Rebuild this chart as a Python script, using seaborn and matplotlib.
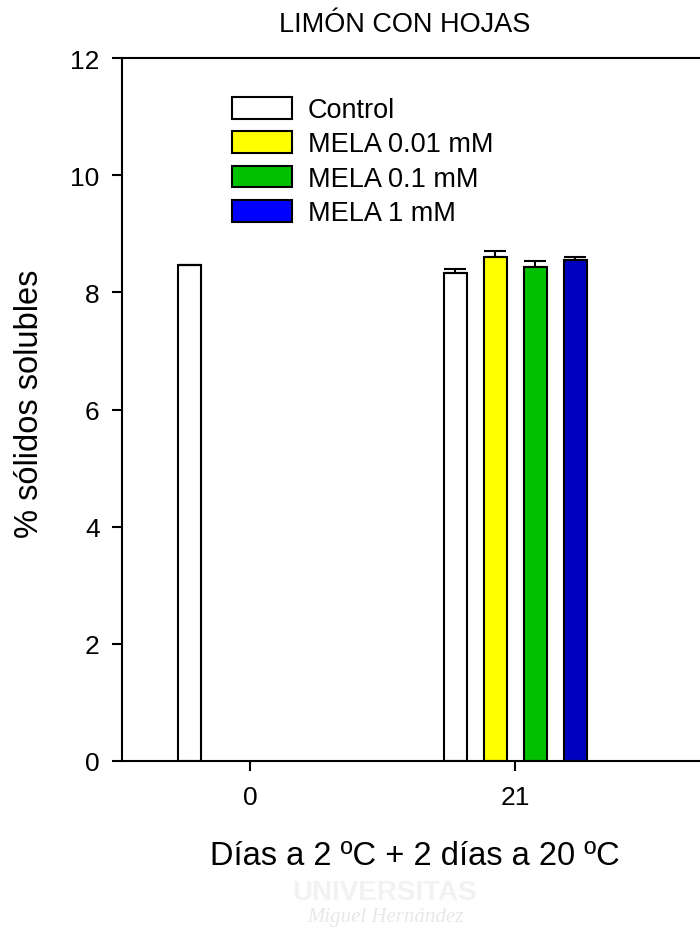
import matplotlib
matplotlib.use('Agg')
import matplotlib.pyplot as plt
from matplotlib.patches import Patch
import seaborn as sns
import pandas as pd

# Data
days = ["0", "21"]
treatments = ["Control", "MELA 0.01 mM", "MELA 0.1 mM", "MELA 1 mM"]
bar_day = ["0", "21", "21", "21", "21"]
bar_treatment = ["Control", "Control", "MELA 0.01 mM", "MELA 0.1 mM", "MELA 1 mM"]
bar_value = [8.46, 8.33, 8.61, 8.43, 8.55]
bar_error = [0.01, 0.07, 0.09, 0.11, 0.06]

bar_colors = {"Control": "white", "MELA 0.01 mM": "#FFFF00",
              "MELA 0.1 mM": "#00C000", "MELA 1 mM": "#0000C0"}
legend_colors = {"Control": "white", "MELA 0.01 mM": "#FFFF00",
                 "MELA 0.1 mM": "#00C000", "MELA 1 mM": "#0000FF"}

df = pd.DataFrame({"day": bar_day, "treatment": bar_treatment,
                   "value": bar_value, "error": bar_error})

sns.set_style("white")
plt.rcParams['font.family'] = ['Liberation Sans', 'DejaVu Sans']
plt.rcParams['text.color'] = 'black'

fig = plt.figure(figsize=(7.0, 9.28), dpi=100)
ax = fig.add_axes([0.1743, 0.1789, 0.9257, 0.7575])

sns.barplot(data=df, x="day", y="value", hue="treatment", order=days,
            hue_order=treatments, palette=bar_colors, saturation=1,
            width=0.604, gap=0.425, errorbar=None, edgecolor="black",
            linewidth=1.5, legend=False, ax=ax)

# one-sided (upper) error bars on each drawn bar
err_lookup = {(d, t): e for d, t, e in zip(bar_day, bar_treatment, bar_error)}
for container, trt in zip(ax.containers, treatments):
    for bar in container:
        h = bar.get_height()
        if pd.isna(h):
            continue
        xc = bar.get_x() + bar.get_width() / 2
        d = days[int(round(xc))]
        e = err_lookup.get((d, trt))
        if e is None:
            continue
        ax.errorbar(xc, h, yerr=[[0], [e]], fmt='none', ecolor='black',
                    elinewidth=1.5, capsize=8, capthick=1.5, zorder=5)

ax.set_ylim(0, 12)
ax.set_yticks(range(0, 13, 2))
ax.set_xlim(-0.483, 1.962)
ax.set_xlabel("")
ax.set_ylabel("")
ax.tick_params(axis='both', direction='out', length=7.2, width=1.5,
               labelsize=19, colors='black')
ax.tick_params(axis='x', bottom=True, pad=10)
ax.tick_params(axis='y', left=True, pad=9)
for sp in ax.spines.values():
    sp.set_linewidth(1.5)
    sp.set_color('black')

handles = [Patch(facecolor=legend_colors[t], edgecolor='black', linewidth=1.5, label=t)
           for t in treatments]
ax.legend(handles=handles, loc='upper left', bbox_to_anchor=(232 / 700, 1 - 98 / 928),
          bbox_transform=fig.transFigure, frameon=False, fontsize=19.5,
          borderaxespad=0, borderpad=0, handlelength=2.2, handleheight=0.85,
          handletextpad=0.6, labelspacing=0.3, labelcolor='black')

# faint watermark text
fig.text(385 / 700, 1 - 893 / 928, "UNIVERSITAS", fontsize=20, fontweight='bold',
         color='#f2f2f2', ha='center', va='center', zorder=0)
fig.text(385 / 700, 1 - 918 / 928, "Miguel Hernández", fontsize=15, style='italic',
         family=['Liberation Serif', 'DejaVu Serif'], color='#e8e8e8',
         ha='center', va='center', zorder=0)

fig.text(405 / 700, 1 - 25 / 928, "LIMÓN CON HOJAS", fontsize=19.5,
         ha='center', va='center')
fig.text(415 / 700, 1 - 857 / 928, "Días a 2 ºC + 2 días a 20 ºC", fontsize=23.5,
         ha='center', va='center')
fig.text(30 / 700, 1 - 404 / 928, "% sólidos solubles", fontsize=23.5,
         rotation=90, ha='center', va='center')

fig.savefig("out.png", dpi=100)
